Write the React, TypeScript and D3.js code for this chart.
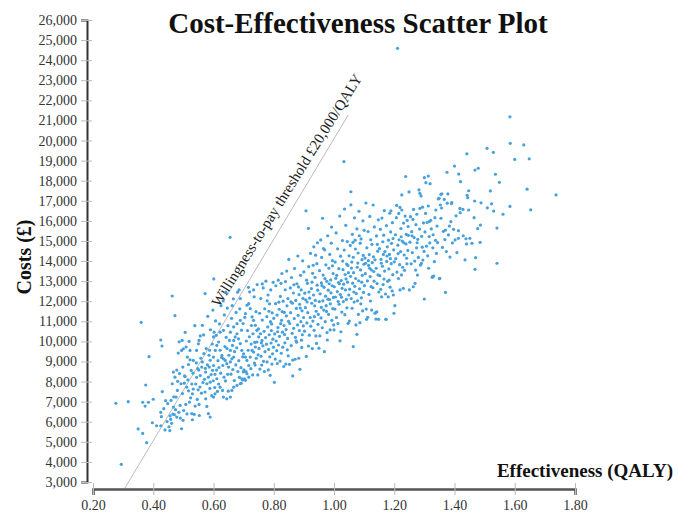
import * as d3 from 'd3';
import { useEffect, useRef } from 'react';

type Pt = [number, number];

// 目盛り
const xTicks = [0.2, 0.4, 0.6, 0.8, 1.0, 1.2, 1.4, 1.6, 1.8];
const yTicks = [
  3000, 4000, 5000, 6000, 7000, 8000, 9000, 10000, 11000, 12000, 13000, 14000,
  15000, 16000, 17000, 18000, 19000, 20000, 21000, 22000, 23000, 24000, 25000, 26000,
];

// 閾値線とラベル
const thresholdLine: Pt[] = [[0.306, 2700], [1.047, 21270]];
const thresholdLabel = 'Willingness-to-pay threshold £20,000/QALY';
const labelAt: Pt = [0.857, 17390];

// (QALY, cost) を効果の範囲ごとに
const ptsLeft: Pt[] = [
  [0.276,6920],[0.317,7000],[0.294,3880],[0.35,5640],[0.365,5420],[0.378,4960],[0.36,10950],[0.386,9240],
  [0.375,7830],[0.365,6970],[0.373,6780],[0.384,6970],[0.40,7120],[0.397,5950],[0.411,5800],[0.425,5800],
  [0.425,10070],[0.429,9770],[0.43,7500],[0.441,7050],[0.425,6470],[0.427,6250],[0.439,5590],[0.446,6010],
  [0.448,6900],[0.435,6650],
  [0.452,5750],[0.455,5560],[0.458,6120],[0.461,5920],[0.463,12260],[0.465,6380],[0.467,6730],[0.468,7240],
  [0.47,6350],[0.472,11280],[0.472,8220],[0.474,6600],[0.476,7230],[0.478,6230],[0.478,8570],[0.48,7560],
  [0.483,9420],[0.485,6470],[0.487,8400],[0.489,6810],[0.49,6180],[0.492,7890],[0.494,9550],[0.494,5650],
  [0.496,10050],[0.497,7400],[0.498,8720],[0.499,6070],[0.463,7890],[0.467,8470],[0.456,6290],[0.459,7060],
  [0.481,8010],[0.486,9980],
  [0.5,9630],[0.501,6560],[0.503,7920],[0.504,8280],[0.506,10450],[0.506,8250],[0.508,6860],[0.509,9720],
  [0.511,7720],[0.512,6390],[0.513,9220],[0.515,8080],[0.517,8850],[0.517,7540],[0.519,10000],[0.52,6980],
  [0.522,9550],[0.522,9080],[0.524,7190],[0.526,8560],[0.528,7880],[0.528,6400],[0.53,6100],[0.53,7390],
  [0.532,8420],[0.533,7630],[0.533,9050],[0.536,6370],[0.538,10780],[0.539,6780],[0.541,7880],[0.543,8930],
  [0.544,8210],[0.544,9550],[0.546,7110],[0.548,8640],[0.55,9880],[0.549,7590],
  [0.551,8570],[0.552,10050],[0.552,6860],[0.553,6310],[0.555,7730],[0.556,8300],[0.556,10270],[0.558,9160],
  [0.56,7420],[0.561,8720],[0.563,8980],[0.563,10800],[0.565,7950],[0.567,10320],[0.568,9390],[0.57,8110],
  [0.572,7480],[0.572,12380],[0.574,7140],[0.574,8470],[0.576,9640],[0.578,6760],[0.578,7890],[0.58,8830],
  [0.581,11250],[0.583,6400],[0.583,8220],[0.585,9310],[0.586,8720],[0.588,7660],[0.589,6230],[0.589,7970],
  [0.589,9060],[0.59,10580],[0.592,8350],[0.594,7300],[0.596,9870],[0.597,8560],[0.598,11560],[0.599,8040],
  [0.573,8660],[0.587,9560],
];

const ptsMid: Pt[] = [
  [0.6,7230],[0.6,8800],[0.6,9220],[0.6,10220],[0.601,13110],[0.602,10460],[0.604,7700],[0.605,7390],
  [0.605,8360],[0.606,9550],[0.607,11020],[0.609,10300],[0.61,8570],[0.611,8140],[0.611,9800],[0.613,7510],
  [0.615,9040],[0.617,7880],[0.617,9970],[0.618,8700],[0.62,10870],[0.622,7720],[0.622,9560],[0.622,10460],
  [0.624,8420],[0.625,11780],[0.627,9200],[0.628,9300],[0.63,7560],[0.631,8800],[0.633,7230],[0.633,9130],
  [0.633,10550],[0.635,8220],[0.636,11320],[0.638,9740],[0.639,9050],[0.64,8030],[0.641,12450],[0.642,10200],
  [0.644,7140],[0.644,8890],[0.645,9640],[0.647,8360],[0.648,10780],[0.649,7520],[0.65,8720],[0.632,12010],
  [0.646,11660],
  [0.651,9310],[0.653,10050],[0.655,15180],[0.656,7230],[0.656,8980],[0.656,9550],[0.656,10460],[0.658,8370],
  [0.66,11150],[0.661,7560],[0.661,9130],[0.663,9800],[0.664,8600],[0.666,12120],[0.667,7720],[0.667,9220],
  [0.667,10050],[0.667,10720],[0.669,8050],[0.67,9490],[0.672,10220],[0.674,8830],[0.675,11440],[0.677,9680],
  [0.678,7810],[0.678,10380],[0.678,10880],[0.68,12450],[0.681,8500],[0.683,10130],[0.684,9040],[0.686,8210],
  [0.687,11620],[0.689,7890],[0.689,9890],[0.689,11050],[0.689,12130],[0.691,8690],[0.692,7910],[0.693,10560],
  [0.694,8140],[0.694,9550],[0.696,8080],[0.697,9230],[0.698,10890],[0.699,8480],[0.685,12560],[0.662,11780],
  [0.7,9380],[0.701,8580],[0.703,8130],[0.704,11200],[0.706,8060],[0.706,9220],[0.706,11380],[0.708,8490],
  [0.709,10020],[0.711,8390],[0.711,9050],[0.711,11800],[0.713,10540],[0.715,9560],[0.717,8220],[0.717,8800],
  [0.717,11880],[0.719,10230],[0.72,12470],[0.722,9220],[0.722,11630],[0.724,8640],[0.725,9870],[0.726,10790],
  [0.728,9550],[0.728,11220],[0.73,8330],[0.731,10380],[0.733,9470],[0.733,11050],[0.735,12220],[0.736,8920],
  [0.737,9950],[0.738,8820],[0.739,9720],[0.739,10800],[0.741,11480],[0.742,9160],[0.744,9970],[0.744,10550],
  [0.745,12830],[0.747,8330],[0.748,9330],[0.749,10620],[0.75,10220],[0.716,12690],[0.733,12560],
  [0.751,9650],[0.753,11400],[0.754,8620],[0.756,10380],[0.757,12130],[0.758,9260],[0.76,8820],[0.761,10050],
  [0.762,11060],[0.764,9780],[0.765,12660],[0.766,9010],[0.768,10500],[0.769,8500],[0.77,11620],[0.771,9490],
  [0.773,10190],[0.774,13000],[0.776,9860],[0.777,11230],[0.778,8980],[0.78,10720],[0.781,12310],[0.782,8580],
  [0.783,9600],[0.785,10330],[0.786,11870],[0.787,9230],[0.788,8310],[0.789,10980],[0.79,12560],[0.791,9920],
  [0.792,10540],[0.794,8870],[0.795,11420],[0.796,9380],[0.797,10110],[0.798,12940],[0.799,9710],[0.8,11150],
  [0.762,12860],[0.778,12020],[0.784,11500],[0.759,9930],[0.793,10870],
];

const ptsCore: Pt[] = [
  [0.802,7960],[0.803,10370],[0.805,9120],[0.806,11880],[0.807,12770],[0.808,10020],[0.81,9540],[0.811,11310],
  [0.812,8900],[0.814,10690],[0.815,13050],[0.816,9820],[0.818,11600],[0.819,10250],[0.821,9020],[0.822,12240],
  [0.823,10880],[0.825,9410],[0.826,11050],[0.827,13380],[0.829,10460],[0.83,9710],[0.831,12000],[0.833,8750],
  [0.834,10790],[0.835,11440],[0.837,9930],[0.838,12570],[0.84,8870],[0.841,10590],[0.842,11270],[0.843,13500],
  [0.845,9580],[0.846,10150],[0.847,12130],[0.849,11000],[0.85,14080],[0.817,11950],[0.836,10340],[0.844,11770],
  [0.828,11480],[0.813,10480],[0.848,9280],[0.824,12890],[0.839,12980],
  [0.852,8860],[0.853,10890],[0.855,12660],[0.856,11430],[0.858,9790],[0.859,13180],[0.861,10400],[0.862,11900],
  [0.863,9070],[0.863,8280],[0.865,12410],[0.866,10650],[0.868,11140],[0.869,13630],[0.871,9110],[0.872,10200],
  [0.873,12040],[0.875,11640],[0.876,9960],[0.877,12870],[0.879,10820],[0.88,14250],[0.881,11300],[0.883,9160],
  [0.884,12330],[0.885,10540],[0.886,11850],[0.887,8610],[0.889,13290],[0.89,10980],[0.891,12560],[0.893,9700],
  [0.894,11520],[0.895,10330],[0.896,14010],[0.897,12140],[0.898,10770],[0.899,11190],[0.9,13460],[0.857,11970],
  [0.867,12820],[0.874,10030],[0.882,12710],[0.888,11660],[0.892,10060],
  [0.902,10510],[0.903,12400],[0.905,11680],[0.907,16500],[0.908,9250],[0.909,13050],[0.91,10920],[0.912,12890],
  [0.913,11430],[0.915,9770],[0.915,15630],[0.916,13720],[0.918,10310],[0.919,12150],[0.921,11190],[0.922,14380],
  [0.923,10760],[0.925,12630],[0.926,11900],[0.928,9640],[0.929,13390],[0.93,11010],[0.932,12310],[0.933,14710],
  [0.934,10550],[0.936,11770],[0.937,13190],[0.938,12040],[0.94,10270],[0.941,11500],[0.942,9900],[0.943,13870],
  [0.945,14910],[0.946,12550],[0.947,10850],[0.948,11340],[0.95,9660],[0.911,11960],[0.917,12460],[0.927,12950],
  [0.935,11230],[0.944,12800],[0.931,13790],[0.906,12070],[0.939,14290],
  [0.951,11980],[0.952,13520],[0.953,10270],[0.954,12370],[0.956,15050],[0.957,11170],[0.958,12910],[0.959,14180],
  [0.961,10680],[0.962,16130],[0.963,12020],[0.964,13300],[0.966,11560],[0.967,12690],[0.968,9490],[0.969,14560],
  [0.971,10980],[0.972,12250],[0.973,13810],[0.974,11780],[0.976,12990],[0.977,10440],[0.978,10070],[0.979,15260],
  [0.981,12550],[0.982,11340],[0.983,13640],[0.985,12080],[0.986,14330],[0.987,10570],[0.988,11870],[0.989,13060],
  [0.99,12420],[0.992,15690],[0.993,11050],[0.994,12770],[0.995,14020],[0.996,11630],[0.997,13380],[0.998,12190],
  [0.999,10820],[0.96,12780],[0.965,14620],[0.975,11490],[0.984,12870],[0.991,14890],[0.97,13120],[0.98,12100],
  [0.958,11690],[0.995,13760],
  [1.0,10570],[1.001,12720],[1.003,11610],[1.004,13950],[1.005,12210],[1.007,15400],[1.008,11190],[1.009,13290],
  [1.011,12480],[1.012,14610],[1.013,10890],[1.015,12930],[1.016,13620],[1.017,11850],[1.019,16240],[1.02,10030],
  [1.021,12330],[1.022,14240],[1.023,10480],[1.024,13030],[1.026,11460],[1.027,12640],[1.028,15020],[1.03,13570],
  [1.031,11980],[1.032,12850],[1.033,18950],[1.034,14550],[1.036,11330],[1.037,13330],[1.038,12560],[1.039,15780],
  [1.041,12090],[1.042,13850],[1.043,11670],[1.044,14970],[1.045,12950],[1.047,10900],[1.048,13420],[1.049,12310],
  [1.05,14260],[1.051,11010],[1.006,13140],[1.014,11980],[1.025,12200],[1.029,14000],[1.035,16590],[1.04,13110],
  [1.018,12870],[1.046,13780],
];

const ptsUpper: Pt[] = [
  [1.052,12600],[1.054,14780],[1.055,13240],[1.056,17450],[1.056,16800],[1.057,12130],[1.059,13950],[1.06,11650],
  [1.061,15330],[1.062,12900],[1.064,9740],[1.064,14190],[1.065,13420],[1.067,11960],[1.068,16150],[1.069,12740],
  [1.071,14600],[1.072,13130],[1.073,10820],[1.074,12380],[1.076,10350],[1.076,15600],[1.077,13690],[1.078,12020],
  [1.08,14400],[1.081,11340],[1.082,13020],[1.083,16480],[1.085,12620],[1.086,10930],[1.087,14890],[1.088,13560],
  [1.089,11870],[1.09,15100],[1.092,12950],[1.093,14070],[1.094,13290],[1.095,11520],[1.096,16000],[1.097,14280],
  [1.098,12440],[1.099,13840],[1.1,15530],[1.058,13650],[1.066,12460],[1.07,15040],[1.079,13900],[1.084,15260],
  [1.091,12170],[1.063,14930],
  [1.101,12780],[1.103,14150],[1.104,13370],[1.106,16890],[1.107,11610],[1.108,11100],[1.109,14660],[1.111,13010],
  [1.112,11200],[1.113,15470],[1.115,13780],[1.116,12340],[1.117,14320],[1.119,16220],[1.12,13230],[1.121,12010],
  [1.122,15060],[1.124,13560],[1.125,11560],[1.126,14830],[1.127,13920],[1.129,12670],[1.13,16790],[1.131,14210],
  [1.133,13000],[1.134,15700],[1.136,11400],[1.136,14060],[1.138,11430],[1.139,11110],[1.14,13640],[1.141,15250],
  [1.142,11470],[1.143,12880],[1.145,14490],[1.146,13310],[1.147,16050],[1.148,11100],[1.149,12460],[1.105,13890],
  [1.114,14020],[1.123,12730],[1.132,13480],[1.144,14830],[1.118,13640],
  [1.151,14620],[1.152,13270],[1.154,15580],[1.155,12590],[1.156,14080],[1.158,12220],[1.159,16140],[1.161,13740],
  [1.162,14960],[1.163,12830],[1.165,15290],[1.167,16510],[1.168,13500],[1.169,14470],[1.171,12360],[1.172,11100],
  [1.173,11100],[1.174,15760],[1.175,13980],[1.177,14710],[1.178,12990],[1.18,12220],[1.181,15040],[1.182,13610],
  [1.184,14330],[1.185,16380],[1.186,12700],[1.188,15450],[1.189,16500],[1.19,13870],[1.191,14880],[1.193,12510],
  [1.194,15910],[1.195,13320],[1.197,12310],[1.198,14560],[1.199,11400],[1.2,13960],[1.157,13890],[1.166,13100],
  [1.176,14250],[1.183,13050],[1.187,14120],[1.196,15120],[1.164,14330],
  [1.202,11780],[1.204,15310],[1.205,14120],[1.207,16160],[1.208,16770],[1.209,13450],[1.211,24590],[1.212,14790],
  [1.214,13130],[1.215,16370],[1.216,15060],[1.218,13820],[1.219,16670],[1.219,12560],[1.221,14470],[1.222,15620],
  [1.224,13310],[1.225,16540],[1.225,17290],[1.227,14990],[1.228,13690],[1.23,12640],[1.231,15890],[1.233,14300],
  [1.234,13540],[1.236,16240],[1.238,18210],[1.239,14850],[1.24,15330],[1.242,13860],[1.243,16020],[1.245,14530],
  [1.247,15280],[1.249,17440],[1.25,12560],[1.213,14370],[1.223,15210],[1.232,14910],[1.241,14140],[1.246,15720],
];

const ptsRight: Pt[] = [
  [1.252,14940],[1.254,16210],[1.256,13860],[1.258,15460],[1.26,14420],[1.262,16070],[1.263,12720],[1.264,16570],
  [1.266,15170],[1.268,14000],[1.269,12890],[1.271,13550],[1.272,15810],[1.274,14660],[1.275,16330],[1.277,13300],
  [1.278,15080],[1.28,14180],[1.282,17540],[1.284,15590],[1.285,17370],[1.285,16620],[1.287,13800],[1.289,17240],
  [1.29,13880],[1.291,15230],[1.293,14690],[1.294,16680],[1.295,14050],[1.297,15900],[1.299,14480],[1.3,18150],
  [1.3,12110],[1.259,15260],[1.276,14910],
  [1.302,15450],[1.304,16370],[1.305,17900],[1.307,14740],[1.309,15920],[1.311,14260],[1.313,18230],[1.313,16740],
  [1.314,13640],[1.316,15220],[1.318,14900],[1.319,17850],[1.321,16030],[1.323,15600],[1.326,13190],[1.327,13220],
  [1.328,14660],[1.331,13250],[1.333,13970],[1.335,16160],[1.337,15030],[1.34,14380],[1.342,15740],[1.344,14920],
  [1.346,17090],[1.349,17120],[1.35,13120],[1.317,15970],[1.329,15310],[1.338,16540],
  [1.351,13140],[1.353,16790],[1.355,17320],[1.355,16130],[1.357,16640],[1.358,17350],[1.36,14680],[1.363,15480],
  [1.366,17070],[1.368,15070],[1.37,12440],[1.37,15540],[1.373,14470],[1.375,18420],[1.376,16880],[1.378,17340],
  [1.38,15300],[1.383,15740],[1.385,14200],[1.388,15960],[1.39,16860],[1.391,16910],[1.393,14900],[1.397,15580],
  [1.4,18730],
  [1.402,15050],[1.405,16250],[1.408,14420],[1.413,15130],[1.413,15510],[1.414,18330],[1.418,16620],[1.419,16410],
  [1.42,17950],[1.428,16570],[1.429,15260],[1.435,14060],[1.438,15110],[1.44,14850],[1.441,19340],[1.442,17270],
  [1.444,17150],[1.447,17500],[1.447,16540],
  [1.451,15130],[1.458,14880],[1.465,16160],[1.467,16990],[1.468,18530],[1.468,13590],[1.47,14170],[1.477,15610],
  [1.479,18620],[1.486,15790],[1.485,14930],[1.488,16900],
  [1.508,19610],[1.509,16650],[1.519,17490],[1.523,16850],[1.529,19410],[1.53,16490],[1.536,18320],[1.541,15640],
  [1.541,13890],[1.549,17920],[1.561,16330],[1.584,21180],[1.585,19860],[1.584,16720],[1.6,19060],[1.63,19780],
  [1.641,17580],[1.648,19090],[1.653,16550],[1.737,17290],
];

const allPoints: Pt[] = [...ptsLeft, ...ptsMid, ...ptsCore, ...ptsUpper, ...ptsRight];

const serif = "'Liberation Serif', 'Times New Roman', Times, serif";

export default function App() {
  const ref = useRef<SVGSVGElement>(null);
  const width = 678;
  const height = 513;

  useEffect(() => {
    if (!ref.current) return;
    const svg = d3.select(ref.current);
    svg.selectAll('*').remove();

    const x = d3.scaleLinear().domain([0.2, 1.8]).range([93, 575]);
    const y = d3.scaleLinear().domain([3000, 26000]).range([482, 20]);

    // タイトル
    svg
      .append('text')
      .attr('x', 358)
      .attr('y', 33)
      .attr('text-anchor', 'middle')
      .attr('font-family', serif)
      .attr('font-weight', 'bold')
      .attr('font-size', 29)
      .attr('fill', '#111')
      .text('Cost-Effectiveness Scatter Plot');

    // y軸
    const gy = svg
      .append('g')
      .attr('transform', 'translate(87,0)')
      .call(
        d3
          .axisLeft(y)
          .tickValues(yTicks)
          .tickSizeOuter(0)
          .tickSize(6)
          .tickPadding(4)
          .tickFormat((d) => d3.format(',')(d as number))
      );
    gy.select('.domain').attr('stroke', '#333').attr('stroke-width', 2);
    gy.selectAll('.tick line').attr('x1', 5).attr('stroke', '#bbb');
    gy.selectAll('.tick text')
      .attr('font-family', serif)
      .attr('font-size', 14)
      .attr('fill', '#333');

    // x軸
    const gx = svg
      .append('g')
      .attr('transform', 'translate(0,489)')
      .call(
        d3
          .axisBottom(x)
          .tickValues(xTicks)
          .tickSizeOuter(0)
          .tickSize(6)
          .tickPadding(5)
          .tickFormat((d) => d3.format('.2f')(d as number))
      );
    gx.select('.domain').attr('stroke', '#555').attr('stroke-width', 2.5);
    gx.selectAll('.tick line').attr('y1', -6).attr('stroke', '#bbb');
    gx.selectAll('.tick text')
      .attr('font-family', serif)
      .attr('font-size', 14)
      .attr('fill', '#333');

    // 軸ラベル
    svg
      .append('text')
      .attr('transform', 'translate(31,257) rotate(-90)')
      .attr('text-anchor', 'middle')
      .attr('font-family', serif)
      .attr('font-weight', 'bold')
      .attr('font-size', 20)
      .attr('fill', '#111')
      .text('Costs (£)');

    svg
      .append('text')
      .attr('x', 673)
      .attr('y', 477)
      .attr('text-anchor', 'end')
      .attr('font-family', serif)
      .attr('font-weight', 'bold')
      .attr('font-size', 19)
      .attr('fill', '#111')
      .text('Effectiveness (QALY)');

    // 閾値線
    const line = d3
      .line<Pt>()
      .x((d) => x(d[0]))
      .y((d) => y(d[1]));
    svg
      .append('path')
      .datum(thresholdLine)
      .attr('fill', 'none')
      .attr('stroke', '#bbb')
      .attr('stroke-width', 1)
      .attr('d', line);

    svg
      .append('text')
      .attr('transform', `translate(${x(labelAt[0])},${y(labelAt[1])}) rotate(-58)`)
      .attr('text-anchor', 'middle')
      .attr('font-family', serif)
      .attr('font-size', 15)
      .attr('fill', '#222')
      .text(thresholdLabel);

    // 散布点
    svg
      .append('g')
      .selectAll('circle')
      .data(allPoints)
      .join('circle')
      .attr('cx', (d) => x(d[0]))
      .attr('cy', (d) => y(d[1]))
      .attr('r', 1.6)
      .attr('fill', '#46a0dc');
  }, []);

  return (
    <svg
      ref={ref}
      width={width}
      height={height}
      style={{ position: 'absolute', left: 0, top: 0, background: '#fff' }}
    />
  );
}
